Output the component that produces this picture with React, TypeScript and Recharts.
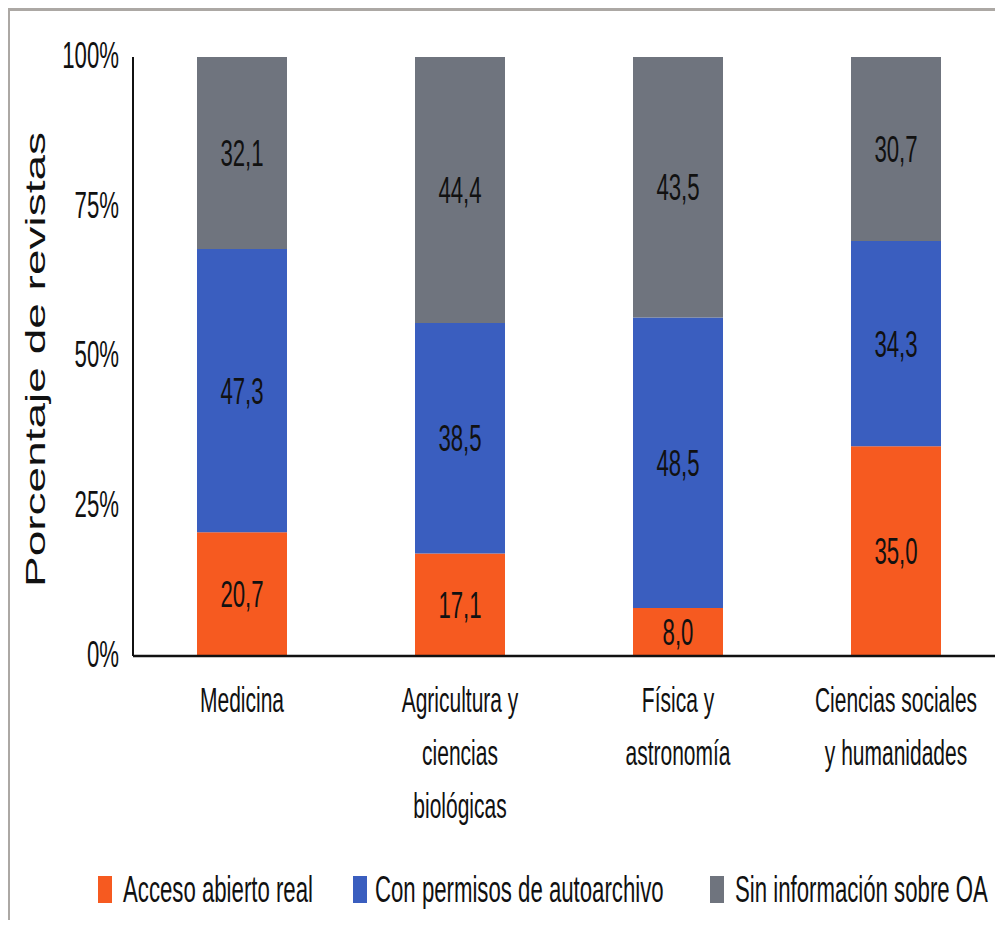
import React from 'react';
import { BarChart, Bar, XAxis, YAxis, Legend, LabelList } from 'recharts';

const categories = [
  'Medicina',
  'Agricultura y\nciencias\nbiológicas',
  'Física y\nastronomía',
  'Ciencias sociales\ny humanidades',
];
const accesoAbierto = [20.7, 17.1, 8.0, 35.0];
const autoarchivo = [47.3, 38.5, 48.5, 34.3];
const sinInfo = [32.1, 44.4, 43.5, 30.7];
const yTicks = [0, 0.25, 0.5, 0.75, 1];

const series = [
  { key: 'acceso', name: 'Acceso abierto real', color: '#F65A20' },
  { key: 'auto', name: 'Con permisos de autoarchivo', color: '#3A5EBF' },
  { key: 'sin', name: 'Sin información sobre OA', color: '#6F747E' },
];

const data = categories.map((c, i) => ({
  name: c,
  acceso: accesoAbierto[i],
  auto: autoarchivo[i],
  sin: sinInfo[i],
}));

// the source picture is squeezed horizontally, so text gets the same squeeze
const SQ = 0.6;
const FONT = '"Liberation Sans", Arial, sans-serif';

const Squish = ({ x, y, size, anchor = 'middle', children }: any) => (
  <text
    transform={`translate(${x},${y}) scale(${SQ},1)`}
    textAnchor={anchor}
    dy="0.35em"
    fontSize={size}
    fontFamily={FONT}
    fill="#111"
  >
    {children}
  </text>
);

const YTick = ({ x, y, payload }: any) => (
  <Squish x={x} y={y - 2} size={37} anchor="end">
    {Math.round(payload.value * 100) + '%'}
  </Squish>
);

const XTick = ({ x, y, payload }: any) => {
  const lines = String(payload.value).split('\n');
  return (
    <g>
      {lines.map((l, i) => (
        <Squish key={i} x={x} y={y + 44 + i * 53} size={35}>
          {l}
        </Squish>
      ))}
    </g>
  );
};

const ValueLabel = ({ x, y, width, height, value }: any) => (
  <Squish x={x + width / 2} y={y + height / 2} size={37}>
    {Number(value).toFixed(1).replace('.', ',')}
  </Squish>
);

const YTitle = ({ viewBox }: any) => {
  const cy = viewBox.y + viewBox.height / 2 + 3;
  return (
    <text
      transform={`translate(27,${cy}) scale(${SQ},1) rotate(-90)`}
      textAnchor="middle"
      dy="0.35em"
      fontSize={46}
      fontFamily={FONT}
      fill="#111"
    >
      Porcentaje de revistas
    </text>
  );
};

const legendRectX = [90, 345, 702];
const legendTextX = [115, 367, 727];

const LegendBox = () => (
  <svg width={995} height={40} style={{ display: 'block' }}>
    {series.map((s, i) => (
      <g key={s.key}>
        <rect x={legendRectX[i]} y={7} width={14} height={27} fill={s.color} />
        <Squish x={legendTextX[i]} y={20} size={37} anchor="start">
          {s.name}
        </Squish>
      </g>
    ))}
  </svg>
);

export default function App() {
  return (
    <div style={{ position: 'relative', width: 995, height: 912, overflow: 'hidden', background: '#fff' }}>
      <BarChart
        width={997}
        height={920}
        data={data}
        stackOffset="expand"
        margin={{ top: 49, right: 0, left: 0, bottom: 19 }}
        barSize={90}
      >
        <XAxis
          dataKey="name"
          height={213}
          interval={0}
          tickLine={false}
          tickSize={0}
          tickMargin={0}
          axisLine={{ stroke: '#111', strokeWidth: 2.5 }}
          tick={<XTick />}
        />
        <YAxis
          width={125}
          domain={[0, 1]}
          ticks={yTicks}
          tickLine={false}
          tickSize={0}
          tickMargin={14}
          axisLine={{ stroke: '#111', strokeWidth: 2 }}
          tick={<YTick />}
          label={{ content: <YTitle /> }}
        />
        <Legend verticalAlign="bottom" content={<LegendBox />} />
        {series.map((s) => (
          <Bar key={s.key} dataKey={s.key} name={s.name} stackId="a" fill={s.color} isAnimationActive={false}>
            <LabelList dataKey={s.key} content={<ValueLabel />} />
          </Bar>
        ))}
      </BarChart>
      <div
        style={{
          position: 'absolute',
          left: 0,
          top: 0,
          right: 0,
          bottom: 0,
          borderTop: '3px solid #aca8a4',
          borderLeft: '2px solid #aca8a4',
          pointerEvents: 'none',
        }}
      />
    </div>
  );
}
